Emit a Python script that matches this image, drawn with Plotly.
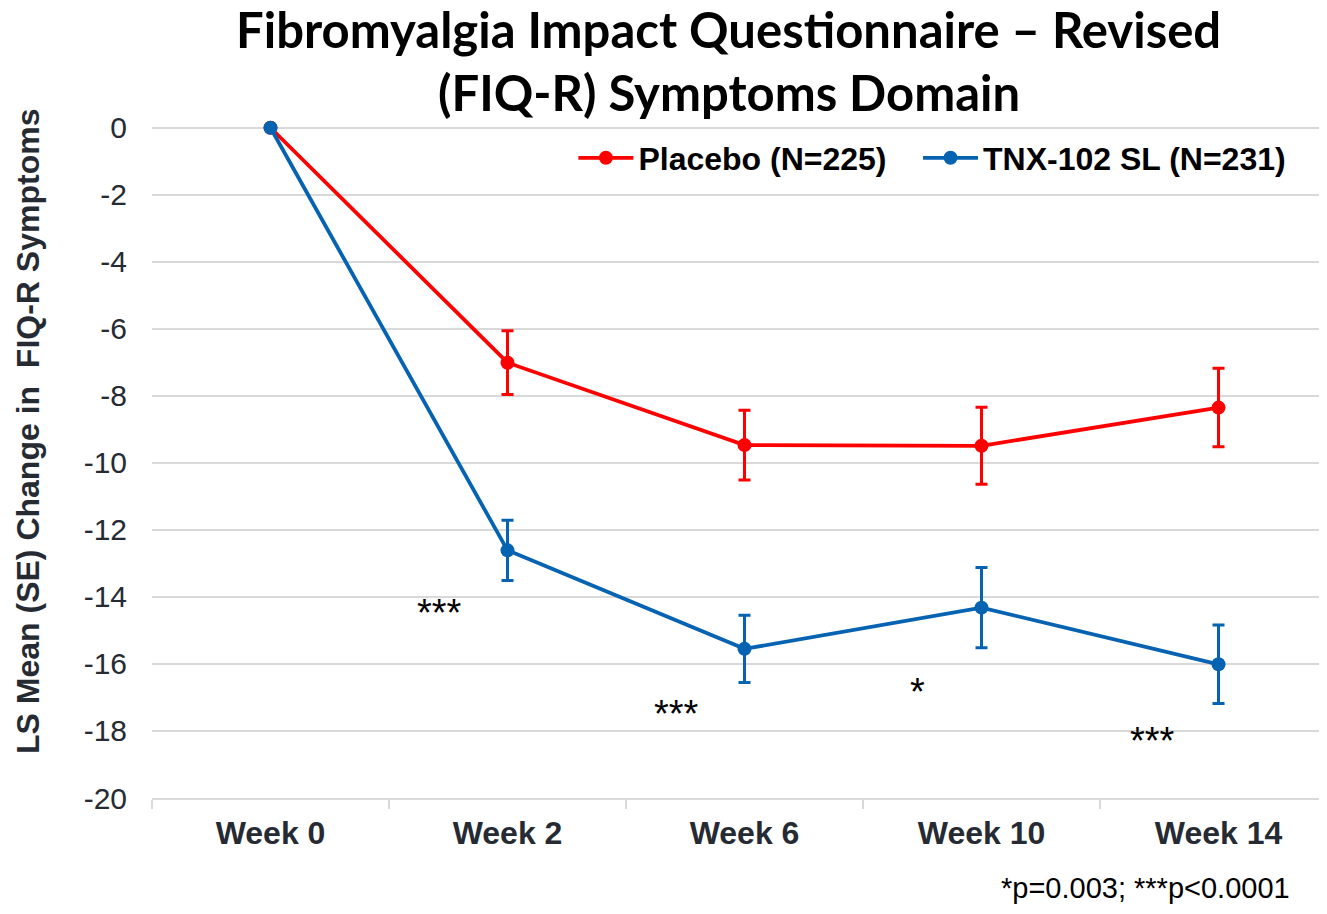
import plotly.graph_objects as go

# ---------- data ----------
weeks = ["Week 0", "Week 2", "Week 6", "Week 10", "Week 14"]
placebo_mean = [0, -7.01, -9.47, -9.49, -8.35]
placebo_se = [0, 0.95, 1.04, 1.15, 1.17]
tnx_mean = [0, -12.61, -15.55, -14.32, -16.01]
tnx_se = [0, 0.90, 1.00, 1.20, 1.17]

y_ticks = list(range(-20, 1, 2))
y_tick_labels = [str(v) for v in y_ticks]  # plain hyphen, not unicode minus

# significance marks (category-index position, y value)
sig_text = ["***", "***", "*", "***"]
sig_x = [0.715, 1.711, 2.732, 3.72]
sig_y = [-14.3, -17.31, -16.66, -18.12]

title_lines = ["Fibromyalgia Impact Questionnaire – Revised", "(FIQ-R) Symptoms Domain"]

RED = "#FF0000"
BLUE = "#0563B1"
TXT = "#262B33"
GRID = "#D9D9D9"
ARIAL = "Liberation Sans, Arial"

fig = go.Figure()
fig.add_trace(go.Scatter(
    x=weeks, y=placebo_mean, mode="lines+markers", name="Placebo (N=225)",
    line=dict(color=RED, width=3.8), marker=dict(color=RED, size=14),
    error_y=dict(type="data", array=placebo_se, color=RED, thickness=3, width=6),
    cliponaxis=False, legend="legend",
))
fig.add_trace(go.Scatter(
    x=weeks, y=tnx_mean, mode="lines+markers", name="TNX-102 SL (N=231)",
    line=dict(color=BLUE, width=3.8), marker=dict(color=BLUE, size=14),
    error_y=dict(type="data", array=tnx_se, color=BLUE, thickness=3, width=6),
    cliponaxis=False, legend="legend2",
))

for t, sx, sy in zip(sig_text, sig_x, sig_y):
    fig.add_annotation(x=sx, y=sy, text=t, showarrow=False,
                       font=dict(family=ARIAL, size=38, color="black"),
                       yanchor="middle", yshift=-6)

# title (two lines), y axis title and footnote
for line, ty in zip(title_lines, [1.1194, 1.0277]):
    fig.add_annotation(xref="paper", yref="paper", x=0.4944, y=ty, text=line,
                       showarrow=False, xanchor="center", yanchor="middle",
                       font=dict(family="Lato", size=49, color="black", weight="bold"))
fig.add_annotation(xref="paper", yref="paper", x=0, y=0.5328, xshift=-124,
                   text="LS Mean (SE) Change in \u00a0FIQ-R Symptoms", textangle=-90,
                   showarrow=False, xanchor="center", yanchor="middle",
                   font=dict(family=ARIAL, size=32, color=TXT, weight="bold"))
fig.add_annotation(xref="paper", yref="paper", x=0.9769, y=-0.1572,
                   text="*p=0.003; ***p<0.0001", showarrow=False,
                   xanchor="right", yanchor="bottom",
                   font=dict(family=ARIAL, size=29, color="black"))

legend_style = dict(orientation="h", yanchor="middle", y=0.9316, xanchor="left",
                    bgcolor="rgba(0,0,0,0)", itemwidth=55,
                    font=dict(family=ARIAL, size=32, color="black", weight="bold"))

fig.update_layout(
    width=1311, height=898,
    margin=dict(l=144, r=0, t=103, b=108),
    plot_bgcolor="white", paper_bgcolor="white",
    showlegend=True,
    legend=dict(legend_style, x=0.3611),
    legend2=dict(legend_style, x=0.6564),
    xaxis=dict(type="category", range=[-0.5, 4.424], showgrid=False,
               showline=True, linecolor=GRID, linewidth=2,
               ticks="outside", tickson="boundaries", ticklen=9, tickcolor=GRID, tickwidth=1.5,
               tickfont=dict(family=ARIAL, size=32, color=TXT, weight="bold"),
               ticklabelstandoff=6),
    yaxis=dict(range=[-20, 0.5], tickvals=y_ticks, ticktext=y_tick_labels,
               showgrid=True, gridcolor=GRID, gridwidth=2, zeroline=False,
               ticks="", ticklabelstandoff=24,
               tickfont=dict(family=ARIAL, size=30, color=TXT)),
)

fig.write_html("out.html")
